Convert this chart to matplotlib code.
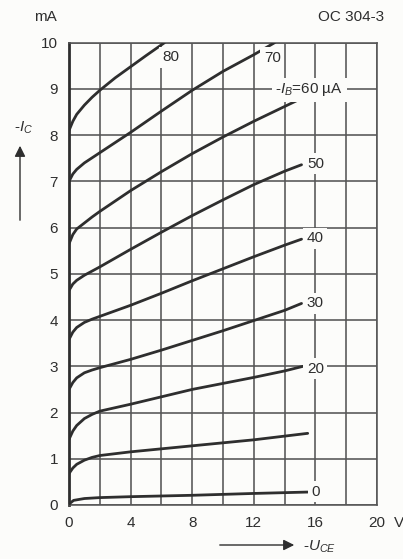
import matplotlib
matplotlib.use('Agg')
import matplotlib.pyplot as plt

# Output characteristics OC 304-3: -Ic (mA) over -Uce (V), one curve per base current.
uce_0 = [0, 0.3, 1, 2, 4, 8, 12, 15.5]
ic_0 = [0.02, 0.1, 0.14, 0.16, 0.18, 0.21, 0.25, 0.28]

uce_10 = [0, 0.25, 0.5, 1, 1.5, 2, 4, 8, 12, 15.5]
ic_10 = [0.68, 0.8, 0.88, 0.97, 1.03, 1.07, 1.15, 1.28, 1.41, 1.55]

uce_20 = [0, 0.25, 0.5, 1, 1.5, 2, 4, 6, 8, 10, 12, 14, 15.2]
ic_20 = [1.42, 1.6, 1.72, 1.87, 1.96, 2.03, 2.18, 2.34, 2.5, 2.63, 2.76, 2.9, 3.0]

uce_30 = [0, 0.25, 0.5, 1, 1.5, 2, 4, 6, 8, 10, 12, 14, 15.1]
ic_30 = [2.5, 2.65, 2.75, 2.86, 2.92, 2.97, 3.15, 3.35, 3.56, 3.77, 3.99, 4.21, 4.36]

uce_40 = [0, 0.25, 0.5, 1, 1.5, 2, 4, 6, 8, 10, 12, 14, 15.1]
ic_40 = [3.58, 3.74, 3.84, 3.95, 4.02, 4.08, 4.32, 4.58, 4.85, 5.11, 5.37, 5.62, 5.75]

uce_50 = [0, 0.25, 0.5, 1, 1.5, 2, 3, 4, 6, 8, 10, 12, 14, 15.1]
ic_50 = [4.64, 4.78, 4.86, 4.97, 5.06, 5.15, 5.34, 5.53, 5.9, 6.26, 6.6, 6.93, 7.22, 7.36]

uce_60 = [0, 0.25, 0.5, 1, 1.5, 2, 4, 6, 8, 10, 12, 14, 15.0]
ic_60 = [5.65, 5.85, 5.97, 6.1, 6.23, 6.35, 6.8, 7.21, 7.6, 7.96, 8.3, 8.62, 8.78]

uce_70 = [0, 0.25, 0.5, 1, 1.5, 2, 4, 6, 8, 10, 12, 13.35]
ic_70 = [7.0, 7.16, 7.26, 7.4, 7.51, 7.62, 8.06, 8.52, 8.97, 9.38, 9.74, 10.0]

uce_80 = [0, 0.25, 0.5, 1, 1.5, 2, 3, 4, 5, 6.2]
ic_80 = [8.1, 8.3, 8.45, 8.65, 8.82, 8.97, 9.24, 9.48, 9.72, 10.0]

curves = [(uce_0, ic_0), (uce_10, ic_10), (uce_20, ic_20), (uce_30, ic_30),
          (uce_40, ic_40), (uce_50, ic_50), (uce_60, ic_60), (uce_70, ic_70),
          (uce_80, ic_80)]

# Curve labels: text, x, y (in data units).
label_texts = ['80', '70', '50', '40', '30', '20', '0']
label_x = [6.6, 13.2, 16, 16, 16, 16, 16]
label_y = [9.68, 9.67, 7.38, 5.77, 4.36, 2.95, 0.29]

x_ticks = [0, 2, 4, 6, 8, 10, 12, 14, 16, 18, 20]
x_tick_labels = ['0', '', '4', '', '8', '', '12', '', '16', '', '20']
y_ticks = list(range(0, 11))

ink = '#2e2e2e'
grid_ink = '#555555'
paper = '#fcfcfa'

plt.rcParams['font.family'] = ['Liberation Sans', 'DejaVu Sans']
plt.rcParams['mathtext.fontset'] = 'custom'
plt.rcParams['mathtext.rm'] = 'Liberation Sans'
plt.rcParams['mathtext.it'] = 'Liberation Sans:italic'

W, H = 403, 559
fig = plt.figure(figsize=(W / 100, H / 100), dpi=100, facecolor=paper)
ax = fig.add_axes([69 / W, 1 - 505 / H, (377 - 69) / W, (505 - 42.7) / H])
ax.set_facecolor(paper)

ax.set_xlim(0, 20)
ax.set_ylim(0, 10)
ax.set_xticks(x_ticks)
ax.set_xticklabels(x_tick_labels)
ax.set_yticks(y_ticks)
ax.tick_params(length=0, labelsize=11, colors=ink)
ax.tick_params(axis='x', pad=8)
ax.tick_params(axis='y', pad=8)

# Grid behind the curves.
ax.grid(True, color=grid_ink, linewidth=1.15, zorder=1)
ax.set_axisbelow(True)
for side in ['top', 'right', 'bottom']:
    ax.spines[side].set_color(grid_ink)
    ax.spines[side].set_linewidth(1.15)
ax.spines['left'].set_color(ink)
ax.spines['left'].set_linewidth(2.0)

# The characteristic curves.
for uce, ic in curves:
    ax.plot(uce, ic, color=ink, linewidth=2.0, solid_capstyle='round',
            solid_joinstyle='round', zorder=3)

# Curve labels knock out the grid behind them.
box = dict(facecolor=paper, edgecolor='none', pad=2.5)
for text, x, y in zip(label_texts, label_x, label_y):
    ax.text(x, y, text, ha='center', va='center', fontsize=11, color=ink,
            bbox=box, zorder=4)
ax.text(13.4, 8.98, r'-$I_B$=60 µA', ha='left', va='center', fontsize=11,
        color=ink, bbox=box, zorder=4)

# The "V" unit after the last x tick.
ax.annotate('V', xy=(20, 0), xytext=(12, -8), textcoords='offset points',
            ha='left', va='top', fontsize=11, color=ink, annotation_clip=False)

# Header texts.
fig.text(45 / W, 1 - 17 / H, 'mA', ha='center', va='center', fontsize=11, color=ink)
fig.text(384 / W, 1 - 17 / H, 'OC 304-3', ha='right', va='center', fontsize=11, color=ink)

# Y axis quantity with upward arrow.
fig.text(24 / W, 1 - 128 / H, r'-$I_C$', ha='center', va='center', fontsize=11, color=ink)
fig.patches.append(matplotlib.patches.FancyArrowPatch(
    (20 / W, 1 - 223 / H), (20 / W, 1 - 143 / H), transform=fig.transFigure,
    arrowstyle='-|>', mutation_scale=16, linewidth=1.0, color=ink))

# X axis quantity with rightward arrow.
fig.patches.append(matplotlib.patches.FancyArrowPatch(
    (217 / W, 1 - 545 / H), (297 / W, 1 - 545 / H), transform=fig.transFigure,
    arrowstyle='-|>', mutation_scale=16, linewidth=1.0, color=ink))
fig.text(303 / W, 1 - 547 / H, r'-$U_{CE}$', ha='left', va='center', fontsize=11, color=ink)

fig.savefig('out.png', dpi=100, facecolor=paper)
